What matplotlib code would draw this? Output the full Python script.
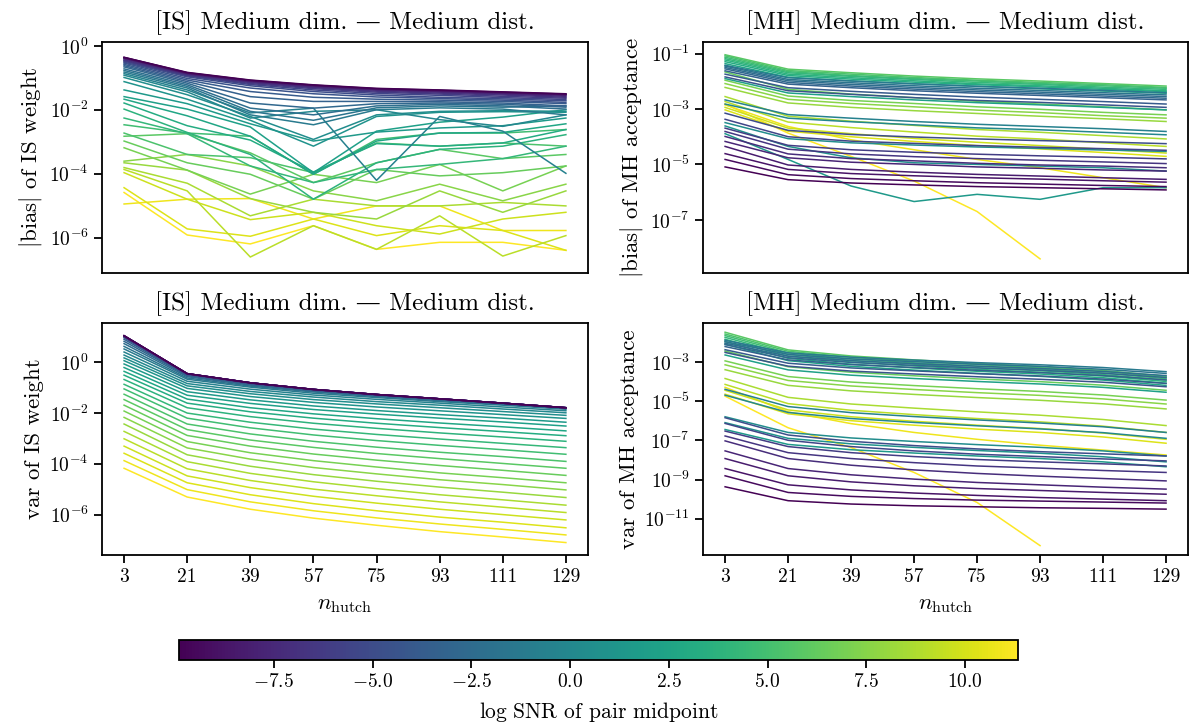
import numpy as np
import matplotlib
matplotlib.use("Agg")
import matplotlib.pyplot as plt
from matplotlib.colors import Normalize
from matplotlib.ticker import NullLocator

plt.rcParams.update({
    'font.family': ['cmr10', 'DejaVu Serif'],
    'mathtext.fontset': 'cm',
    'axes.formatter.use_mathtext': True,
    'axes.unicode_minus': True,
    'font.size': 14,
    'axes.linewidth': 1.3,
    'xtick.major.width': 1.3,
    'ytick.major.width': 1.3,
    'xtick.major.size': 6,
    'ytick.major.size': 6,
})

nan = float('nan')

n_hutch = [3, 21, 39, 57, 75, 93, 111, 129]
xtick_labels = ['3', '21', '39', '57', '75', '93', '111', '129']

log_snr = [-9.90, -9.36, -8.81, -8.27, -7.72, -7.18, -6.63, -6.09, -5.54, -5.00,
           -4.45, -3.91, -3.36, -2.82, -2.28, -1.73, -1.19, -0.64, -0.10, 0.45,
           0.99, 1.54, 2.08, 2.63, 3.17, 3.72, 4.26, 4.81, 5.35, 5.90,
           6.44, 6.99, 7.53, 8.08, 8.62, 9.17, 9.71, 10.25, 10.80, 11.34]

# log10 |bias| of IS weight, one row per logSNR
is_bias_log10 = [
    [-0.36, -0.83, -1.07, -1.22, -1.33, -1.38, -1.44, -1.50],
    [-0.36, -0.84, -1.08, -1.23, -1.34, -1.39, -1.45, -1.51],
    [-0.37, -0.85, -1.09, -1.24, -1.35, -1.40, -1.46, -1.52],
    [-0.38, -0.86, -1.10, -1.25, -1.36, -1.41, -1.47, -1.53],
    [-0.39, -0.87, -1.11, -1.26, -1.37, -1.43, -1.49, -1.55],
    [-0.41, -0.88, -1.13, -1.29, -1.39, -1.45, -1.51, -1.58],
    [-0.44, -0.90, -1.15, -1.31, -1.42, -1.48, -1.54, -1.61],
    [-0.46, -0.92, -1.18, -1.34, -1.45, -1.51, -1.58, -1.64],
    [-0.48, -0.94, -1.21, -1.38, -1.49, -1.55, -1.62, -1.68],
    [-0.51, -0.97, -1.25, -1.43, -1.54, -1.61, -1.66, -1.72],
    [-0.54, -1.02, -1.32, -1.50, -1.60, -1.65, -1.70, -1.77],
    [-0.58, -1.07, -1.43, -1.61, -1.67, -1.70, -1.74, -1.81],
    [-0.62, -1.12, -1.59, -1.74, -1.74, -1.75, -1.79, -1.88],
    [-0.66, -1.17, -1.79, -1.95, -1.81, -1.79, -1.83, -1.92],
    [-0.72, -1.22, -1.95, -2.16, -1.88, -1.83, -1.88, -1.98],
    [-0.77, -1.27, -2.05, -2.33, -1.94, -1.88, -1.92, -1.88],
    [-0.82, -1.32, -2.16, -2.47, -2.00, -1.94, -1.98, -2.16],
    [-0.87, -1.38, -2.10, -1.95, -4.21, -2.21, -2.67, -3.99],
    [-0.92, -1.44, -2.26, -2.05, -2.00, -2.31, -2.52, -2.16],
    [-0.99, -1.53, -2.21, -2.93, -2.16, -2.05, -2.03, -2.05],
    [-1.12, -1.67, -2.33, -3.14, -2.21, -2.08, -2.06, -2.08],
    [-1.38, -1.81, -2.44, -2.98, -2.70, -2.57, -2.50, -2.26],
    [-1.59, -1.98, -2.54, -3.97, -2.67, -2.39, -2.23, -2.00],
    [-1.67, -2.19, -2.83, -4.02, -2.98, -2.73, -2.71, -2.44],
    [-1.79, -2.50, -2.95, -3.95, -3.06, -3.14, -3.04, -2.62],
    [-1.98, -2.71, -3.40, -4.80, -3.66, -3.24, -3.14, -2.78],
    [-2.26, -2.75, -3.76, -4.28, -3.87, -3.71, -3.53, -3.14],
    [-2.47, -2.73, -2.83, -4.02, -2.93, -2.73, -2.73, -2.62],
    [-2.73, -3.40, -3.50, -3.97, -3.04, -3.14, -3.04, -3.14],
    [-2.83, -2.75, -3.35, -4.28, -3.66, -3.24, -3.53, -3.40],
    [-2.98, -3.66, -4.02, -4.80, -3.87, -4.07, -3.97, -3.76],
    [-3.19, -3.89, -4.64, -4.02, -4.28, -3.71, -4.54, -3.76],
    [-3.61, -3.40, -3.76, -4.54, -4.85, -4.33, -4.85, -4.33],
    [-3.66, -3.89, -4.78, -5.21, -5.42, -4.54, -5.21, -4.54],
    [-3.81, -4.30, -5.32, -4.80, -5.01, -5.01, -4.90, -5.01],
    [-3.87, -4.54, -6.61, -5.63, -6.37, -5.32, -6.58, -5.94],
    [-3.97, -4.80, -5.44, -5.21, -5.63, -5.89, -5.42, -5.21],
    [-4.44, -5.73, -5.96, -5.42, -5.94, -5.63, -5.78, -6.40],
    [-4.95, -4.80, -4.78, -5.42, -5.01, -5.01, -5.78, -5.78],
    [-4.59, -5.92, -6.20, -5.63, -6.37, -6.15, -6.15, -6.40],
]

# log10 var of IS weight
is_var_log10 = [
    [1.03, -0.46, -0.82, -1.08, -1.28, -1.45, -1.62, -1.80],
    [1.03, -0.46, -0.82, -1.08, -1.28, -1.45, -1.62, -1.80],
    [1.03, -0.46, -0.82, -1.08, -1.28, -1.45, -1.62, -1.80],
    [1.03, -0.46, -0.82, -1.08, -1.28, -1.45, -1.62, -1.80],
    [1.02, -0.46, -0.82, -1.08, -1.28, -1.45, -1.62, -1.80],
    [1.02, -0.46, -0.82, -1.08, -1.28, -1.45, -1.62, -1.80],
    [1.01, -0.46, -0.82, -1.08, -1.28, -1.45, -1.62, -1.80],
    [1.01, -0.47, -0.82, -1.08, -1.28, -1.45, -1.62, -1.80],
    [1.00, -0.47, -0.83, -1.08, -1.28, -1.45, -1.62, -1.80],
    [0.99, -0.47, -0.83, -1.09, -1.29, -1.45, -1.62, -1.80],
    [0.98, -0.48, -0.84, -1.09, -1.29, -1.46, -1.62, -1.80],
    [0.95, -0.50, -0.85, -1.10, -1.29, -1.46, -1.62, -1.80],
    [0.89, -0.52, -0.87, -1.12, -1.31, -1.47, -1.64, -1.81],
    [0.81, -0.54, -0.89, -1.13, -1.32, -1.48, -1.64, -1.81],
    [0.72, -0.58, -0.91, -1.15, -1.34, -1.50, -1.65, -1.82],
    [0.61, -0.63, -0.95, -1.18, -1.36, -1.52, -1.67, -1.83],
    [0.51, -0.68, -0.99, -1.23, -1.40, -1.56, -1.70, -1.86],
    [0.39, -0.76, -1.07, -1.30, -1.47, -1.62, -1.77, -1.92],
    [0.27, -0.85, -1.16, -1.38, -1.56, -1.70, -1.85, -2.00],
    [0.16, -0.94, -1.25, -1.48, -1.65, -1.80, -1.95, -2.10],
    [0.05, -1.04, -1.36, -1.59, -1.77, -1.92, -2.07, -2.22],
    [-0.08, -1.17, -1.49, -1.73, -1.91, -2.07, -2.21, -2.37],
    [-0.22, -1.31, -1.63, -1.87, -2.05, -2.21, -2.36, -2.52],
    [-0.37, -1.46, -1.80, -2.04, -2.23, -2.40, -2.55, -2.71],
    [-0.52, -1.62, -1.96, -2.21, -2.41, -2.58, -2.74, -2.90],
    [-0.69, -1.80, -2.15, -2.41, -2.61, -2.79, -2.95, -3.12],
    [-0.88, -2.01, -2.37, -2.64, -2.85, -3.03, -3.20, -3.37],
    [-1.06, -2.21, -2.59, -2.87, -3.09, -3.28, -3.45, -3.63],
    [-1.27, -2.44, -2.83, -3.12, -3.35, -3.55, -3.72, -3.91],
    [-1.48, -2.66, -3.07, -3.36, -3.60, -3.80, -3.99, -4.18],
    [-1.70, -2.89, -3.31, -3.62, -3.86, -4.07, -4.26, -4.46],
    [-1.93, -3.13, -3.57, -3.88, -4.13, -4.36, -4.55, -4.75],
    [-2.18, -3.38, -3.82, -4.15, -4.40, -4.63, -4.82, -5.03],
    [-2.44, -3.65, -4.10, -4.43, -4.69, -4.92, -5.12, -5.33],
    [-2.73, -3.92, -4.38, -4.71, -4.98, -5.22, -5.42, -5.63],
    [-3.02, -4.20, -4.66, -5.00, -5.26, -5.50, -5.71, -5.92],
    [-3.31, -4.48, -4.94, -5.28, -5.55, -5.79, -6.00, -6.21],
    [-3.59, -4.75, -5.22, -5.57, -5.85, -6.10, -6.30, -6.52],
    [-3.88, -5.02, -5.50, -5.85, -6.13, -6.37, -6.58, -6.80],
    [-4.18, -5.31, -5.79, -6.14, -6.42, -6.67, -6.88, -7.10],
]

# log10 |bias| of MH acceptance
mh_bias_log10 = [
    [-5.09, -5.55, -5.67, -5.74, -5.80, -5.84, -5.88, -5.92],
    [-4.82, -5.37, -5.51, -5.59, -5.66, -5.71, -5.76, -5.80],
    [-4.61, -5.18, -5.33, -5.41, -5.48, -5.53, -5.59, -5.64],
    [-4.35, -5.02, -5.18, -5.28, -5.36, -5.42, -5.48, -5.54],
    [-4.17, -4.76, -4.92, -5.00, -5.09, -5.14, -5.20, -5.24],
    [-3.99, -4.62, -4.79, -4.87, -4.96, -5.02, -5.06, -5.12],
    [-3.81, -4.45, -4.62, -4.72, -4.79, -4.85, -4.91, -4.97],
    [-3.69, -4.31, -4.47, -4.56, -4.63, -4.69, -4.74, -4.80],
    [-3.37, -4.00, -4.16, -4.24, -4.32, -4.38, -4.43, -4.49],
    [-3.15, -3.77, -3.92, -4.01, -4.08, -4.14, -4.19, -4.25],
    [-1.84, -2.34, -2.47, -2.59, -2.69, -2.76, -2.85, -2.94],
    [-1.74, -2.23, -2.36, -2.47, -2.57, -2.65, -2.73, -2.82],
    [-1.62, -2.10, -2.23, -2.34, -2.43, -2.51, -2.59, -2.67],
    [-1.55, -2.04, -2.17, -2.28, -2.37, -2.45, -2.53, -2.61],
    [-1.50, -1.98, -2.11, -2.22, -2.31, -2.39, -2.47, -2.55],
    [-1.45, -1.93, -2.05, -2.16, -2.25, -2.33, -2.41, -2.49],
    [-1.42, -1.87, -1.99, -2.09, -2.18, -2.25, -2.33, -2.41],
    [-2.67, -3.20, -3.33, -3.45, -3.55, -3.63, -3.71, -3.81],
    [-2.82, -3.33, -3.46, -3.57, -3.68, -3.75, -3.84, -3.93],
    [-3.49, -4.07, -4.22, -4.30, -4.37, -4.42, -4.48, -4.53],
    [-3.61, -4.35, -4.76, -4.94, -5.00, -5.06, -5.12, -5.24],
    [-3.89, -4.82, -5.78, -6.34, -6.08, -6.26, -5.84, -5.84],
    [-1.90, -2.42, -2.55, -2.67, -2.77, -2.85, -2.94, -3.03],
    [-1.36, -1.85, -1.98, -2.09, -2.18, -2.27, -2.35, -2.43],
    [-1.29, -1.79, -1.92, -2.03, -2.12, -2.20, -2.29, -2.37],
    [-1.23, -1.74, -1.87, -1.98, -2.09, -2.16, -2.25, -2.34],
    [-1.18, -1.69, -1.82, -1.93, -2.04, -2.11, -2.21, -2.29],
    [-1.13, -1.65, -1.79, -1.90, -1.99, -2.08, -2.16, -2.25],
    [-1.08, -1.61, -1.74, -1.86, -1.96, -2.04, -2.12, -2.22],
    [-1.04, -1.56, -1.69, -1.81, -1.91, -1.99, -2.08, -2.17],
    [-1.66, -2.29, -2.46, -2.59, -2.72, -2.82, -2.92, -3.03],
    [-1.96, -2.53, -2.69, -2.80, -2.92, -3.01, -3.12, -3.21],
    [-2.08, -2.65, -2.80, -2.92, -3.04, -3.13, -3.24, -3.33],
    [-2.22, -2.78, -2.94, -3.06, -3.16, -3.26, -3.35, -3.45],
    [-2.55, -3.26, -3.44, -3.59, -3.74, -3.84, -3.96, -4.08],
    [-2.73, -3.47, -3.67, -3.83, -3.98, -4.08, -4.22, -4.35],
    [-2.94, -3.69, -3.89, -4.06, -4.20, -4.32, -4.45, -4.59],
    [-3.03, -3.80, -4.00, -4.17, -4.32, -4.44, -4.57, -4.71],
    [-2.85, -3.63, -4.11, -4.47, -4.82, -5.12, -5.48, -5.84],
    [-2.82, -3.87, -4.71, -5.60, -6.70, -8.41, nan, nan],
]

# log10 var of MH acceptance
mh_var_log10 = [
    [-9.37, -10.08, -10.25, -10.34, -10.39, -10.44, -10.47, -10.51],
    [-8.81, -9.66, -9.86, -9.97, -10.05, -10.10, -10.15, -10.20],
    [-8.44, -9.27, -9.53, -9.69, -9.81, -9.92, -10.00, -10.08],
    [-7.93, -8.81, -9.12, -9.32, -9.46, -9.56, -9.66, -9.75],
    [-7.54, -8.44, -8.76, -8.98, -9.15, -9.27, -9.39, -9.49],
    [-7.03, -7.93, -8.27, -8.51, -8.69, -8.83, -8.95, -9.07],
    [-6.78, -7.63, -7.93, -8.14, -8.31, -8.42, -8.54, -8.64],
    [-6.53, -7.32, -7.63, -7.83, -7.98, -8.10, -8.20, -8.31],
    [-6.14, -7.00, -7.32, -7.54, -7.71, -7.83, -7.95, -8.05],
    [-5.85, -6.73, -7.05, -7.27, -7.44, -7.58, -7.69, -7.80],
    [-2.52, -3.22, -3.47, -3.62, -3.76, -3.89, -4.04, -4.27],
    [-2.38, -3.07, -3.31, -3.46, -3.60, -3.72, -3.88, -4.10],
    [-2.22, -2.90, -3.14, -3.29, -3.43, -3.55, -3.70, -3.92],
    [-2.12, -2.79, -3.03, -3.18, -3.31, -3.43, -3.58, -3.80],
    [-2.05, -2.71, -2.94, -3.09, -3.22, -3.34, -3.49, -3.70],
    [-1.97, -2.62, -2.85, -2.99, -3.12, -3.23, -3.38, -3.59],
    [-1.90, -2.54, -2.76, -2.91, -3.04, -3.15, -3.29, -3.50],
    [-4.40, -5.28, -5.59, -5.79, -5.96, -6.12, -6.31, -6.60],
    [-4.70, -5.58, -5.89, -6.09, -6.26, -6.42, -6.61, -6.90],
    [-5.80, -6.60, -6.88, -7.06, -7.22, -7.36, -7.54, -7.80],
    [-6.10, -6.90, -7.18, -7.36, -7.52, -7.66, -7.84, -8.10],
    [-6.45, -7.21, -7.48, -7.65, -7.80, -7.93, -8.10, -8.35],
    [-2.65, -3.41, -3.68, -3.85, -4.00, -4.13, -4.30, -4.55],
    [-2.10, -2.94, -3.23, -3.42, -3.59, -3.74, -3.93, -4.20],
    [-1.97, -2.82, -3.12, -3.31, -3.48, -3.62, -3.81, -4.09],
    [-1.85, -2.71, -3.01, -3.21, -3.38, -3.53, -3.72, -4.00],
    [-1.75, -2.62, -2.93, -3.12, -3.30, -3.45, -3.65, -3.93],
    [-1.66, -2.54, -2.85, -3.05, -3.22, -3.38, -3.57, -3.86],
    [-1.58, -2.46, -2.77, -2.97, -3.14, -3.30, -3.49, -3.78],
    [-1.49, -2.39, -2.70, -2.90, -3.08, -3.24, -3.44, -3.73],
    [-2.45, -3.25, -3.53, -3.71, -3.87, -4.01, -4.19, -4.45],
    [-2.95, -3.75, -4.03, -4.21, -4.37, -4.51, -4.69, -4.95],
    [-3.15, -3.95, -4.23, -4.41, -4.57, -4.71, -4.89, -5.15],
    [-3.40, -4.20, -4.48, -4.66, -4.82, -4.96, -5.14, -5.40],
    [-3.85, -4.81, -5.15, -5.36, -5.55, -5.72, -5.94, -6.25],
    [-4.15, -5.13, -5.47, -5.69, -5.89, -6.06, -6.28, -6.60],
    [-4.45, -5.45, -5.80, -6.03, -6.23, -6.40, -6.63, -6.95],
    [-4.65, -5.65, -6.00, -6.23, -6.43, -6.60, -6.83, -7.15],
    [-4.30, -5.55, -6.15, -6.60, -6.95, -7.25, -7.50, -7.75],
    [-4.75, -6.36, -7.37, -8.64, -10.17, -12.37, nan, nan],
]

panel_titles = ["[IS] Medium dim. \u2014 Medium dist.",
                "[MH] Medium dim. \u2014 Medium dist.",
                "[IS] Medium dim. \u2014 Medium dist.",
                "[MH] Medium dim. \u2014 Medium dist."]
panel_ylabels = [r"$|$bias$|$ of IS weight", r"$|$bias$|$ of MH acceptance",
                 r"var of IS weight", r"var of MH acceptance"]
panel_data = [is_bias_log10, mh_bias_log10, is_var_log10, mh_var_log10]
panel_ylim_log10 = [(-7.11, 0.12), (-8.92, -0.58), (-7.59, 1.53), (-12.85, -1.02)]
panel_yticks_exp = [[0, -2, -4, -6], [-1, -3, -5, -7], [0, -2, -4, -6],
                    [-3, -5, -7, -9, -11]]
cbar_ticks = [-7.5, -5.0, -2.5, 0.0, 2.5, 5.0, 7.5, 10.0]

fig = plt.figure(figsize=(11.9, 7.28), dpi=100)
positions = [
    [0.0857, 0.625, 0.4084, 0.3173],
    [0.5908, 0.625, 0.4076, 0.3173],
    [0.0857, 0.2376, 0.4084, 0.3187],
    [0.5908, 0.2376, 0.4076, 0.3187],
]
cmap = plt.get_cmap('viridis')
norm = Normalize(vmin=min(log_snr), vmax=max(log_snr))

TITLE_FS = 18
LABEL_FS = 16.5
TICK_FS = 14
CBAR_LABEL_FS = 15.5

for p in range(4):
    ax = fig.add_axes(positions[p])
    data = panel_data[p]
    for k in range(len(log_snr) - 1, -1, -1):
        ax.plot(n_hutch, 10.0 ** np.array(data[k], dtype=float),
                color=cmap(norm(log_snr[k])), lw=1.1)
    ax.set_yscale('log')
    lo, hi = panel_ylim_log10[p]
    ax.set_ylim(10.0 ** lo, 10.0 ** hi)
    ax.set_yticks([10.0 ** e for e in panel_yticks_exp[p]])
    ax.yaxis.set_minor_locator(NullLocator())
    ax.set_xlim(-3.3, 135.3)
    ax.set_title(panel_titles[p], fontsize=TITLE_FS, pad=9)
    ax.set_ylabel(panel_ylabels[p], fontsize=LABEL_FS, labelpad=4)
    ax.tick_params(axis='y', labelsize=TICK_FS)
    if p < 2:
        ax.set_xticks([])
    else:
        ax.set_xticks(n_hutch)
        ax.set_xticklabels(xtick_labels, fontsize=TICK_FS)
        ax.set_xlabel(r"$n_{\mathrm{hutch}}$", fontsize=LABEL_FS, labelpad=7)

cax = fig.add_axes([0.1504, 0.0934, 0.705, 0.0275])
sm = plt.cm.ScalarMappable(norm=norm, cmap=cmap)
cb = fig.colorbar(sm, cax=cax, orientation='horizontal')
cb.set_ticks(cbar_ticks)
cb.ax.tick_params(labelsize=TICK_FS, width=1.3, length=6)
cb.outline.set_linewidth(1.3)
cb.set_label(r"$\log\,\mathrm{SNR}$ of pair midpoint", fontsize=CBAR_LABEL_FS,
             labelpad=6)

fig.savefig("out.png", dpi=100)
